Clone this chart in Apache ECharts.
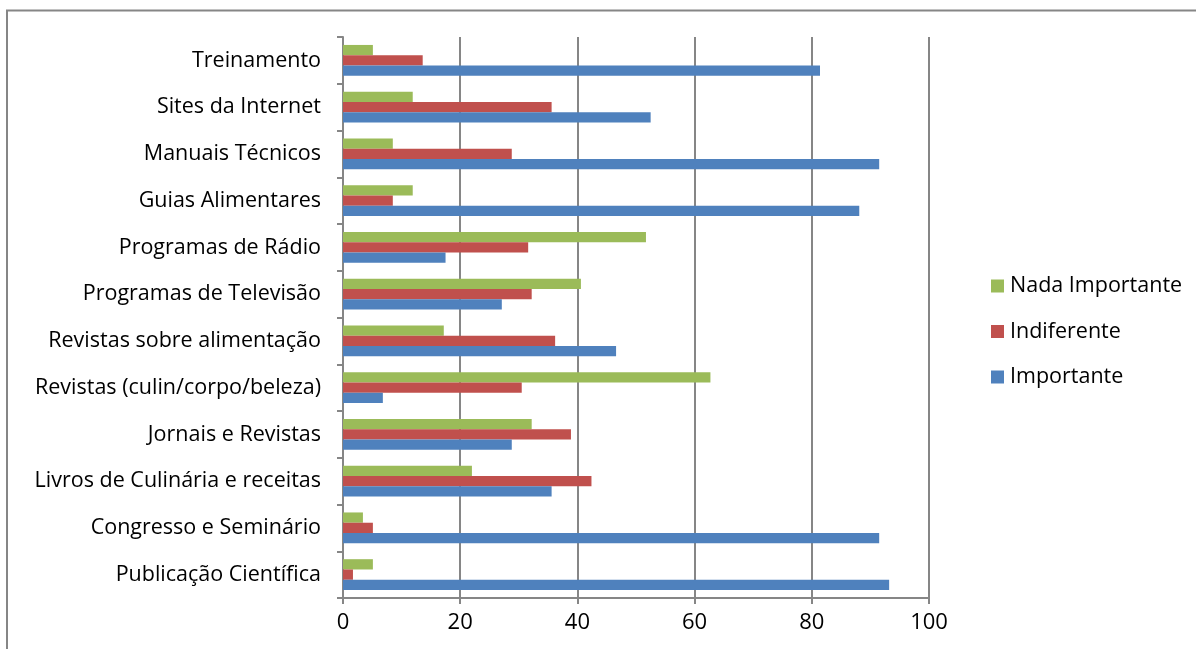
<!DOCTYPE html>
<html>
<head>
<meta charset="utf-8">
<script src="https://cdn.jsdelivr.net/npm/echarts@6/dist/echarts.min.js"></script>
<style>
  html, body { margin: 0; padding: 0; background: #fff; }
  #chart { width: 1196px; height: 649px; }
</style>
</head>
<body>
<div id="chart"></div>
<script>
// categorias (de baixo para cima, como no Excel)
const categorias = [
  "Publicação Científica",
  "Congresso e Seminário",
  "Livros de Culinária e receitas",
  "Jornais e Revistas",
  "Revistas (culin/corpo/beleza)",
  "Revistas sobre alimentação",
  "Programas de Televisão",
  "Programas de Rádio",
  "Guias Alimentares",
  "Manuais Técnicos",
  "Sites da Internet",
  "Treinamento"
];
const importante = [93.2, 91.5, 35.6, 28.8, 6.8, 46.6, 27.1, 17.5, 88.1, 91.5, 52.5, 81.4];
const indiferente = [1.7, 5.1, 42.4, 38.9, 30.5, 36.2, 32.2, 31.6, 8.5, 28.8, 35.6, 13.6];
const nadaImportante = [5.1, 3.4, 22.0, 32.2, 62.7, 17.2, 40.6, 51.7, 11.9, 8.5, 11.9, 5.1];
const ticksX = [0, 20, 40, 60, 80, 100];

document.addEventListener("DOMContentLoaded", function () {
  const chart = echarts.init(document.getElementById("chart"));
  const fonte = "'Open Sans', sans-serif";
  const eixoCor = "#868686";

  const option = {
    animation: false,
    textStyle: { fontFamily: fonte },
    graphic: [{
      type: "rect",
      shape: { x: 7, y: 10.5, width: 1400, height: 800 },
      style: { fill: null, stroke: eixoCor, lineWidth: 2 },
      silent: true
    }],
    legend: {
      orient: "vertical",
      left: 986,
      top: 270,
      itemWidth: 13,
      itemHeight: 13,
      itemGap: 23.5,
      icon: "rect",
      data: ["Nada Importante", "Indiferente", "Importante"],
      textStyle: { fontSize: 21.5, color: "#000", fontFamily: fonte, padding: [0, 0, 0, 1] }
    },
    grid: { left: 343, right: 267, top: 37, bottom: 51, containLabel: false },
    xAxis: {
      type: "value",
      min: ticksX[0],
      max: ticksX[ticksX.length - 1],
      interval: 20,
      axisLine: { show: true, lineStyle: { color: eixoCor, width: 2 } },
      axisTick: { show: true, inside: false, length: 6, lineStyle: { color: eixoCor, width: 2 } },
      axisLabel: { fontSize: 22, color: "#000", margin: 14, fontFamily: fonte },
      splitLine: { show: true, lineStyle: { color: eixoCor, width: 2 } }
    },
    yAxis: {
      type: "category",
      data: categorias,
      axisLine: { show: true, lineStyle: { color: eixoCor, width: 2 } },
      axisTick: { show: true, length: 6, lineStyle: { color: eixoCor, width: 2 } },
      axisLabel: { fontSize: 21.5, color: "#000", margin: 22, fontFamily: fonte }
    },
    // no ECharts a primeira série fica em cima na barra horizontal
    series: [
      {
        name: "Nada Importante", type: "bar", data: nadaImportante,
        barGap: "0%", barCategoryGap: "34%",
        itemStyle: { color: "#9BBB59" }
      },
      {
        name: "Indiferente", type: "bar", data: indiferente,
        barGap: "0%", barCategoryGap: "34%",
        itemStyle: { color: "#C0504D" }
      },
      {
        name: "Importante", type: "bar", data: importante,
        barGap: "0%", barCategoryGap: "34%",
        itemStyle: { color: "#4F81BD" }
      }
    ]
  };
  chart.setOption(option);
});
</script>
</body>
</html>
